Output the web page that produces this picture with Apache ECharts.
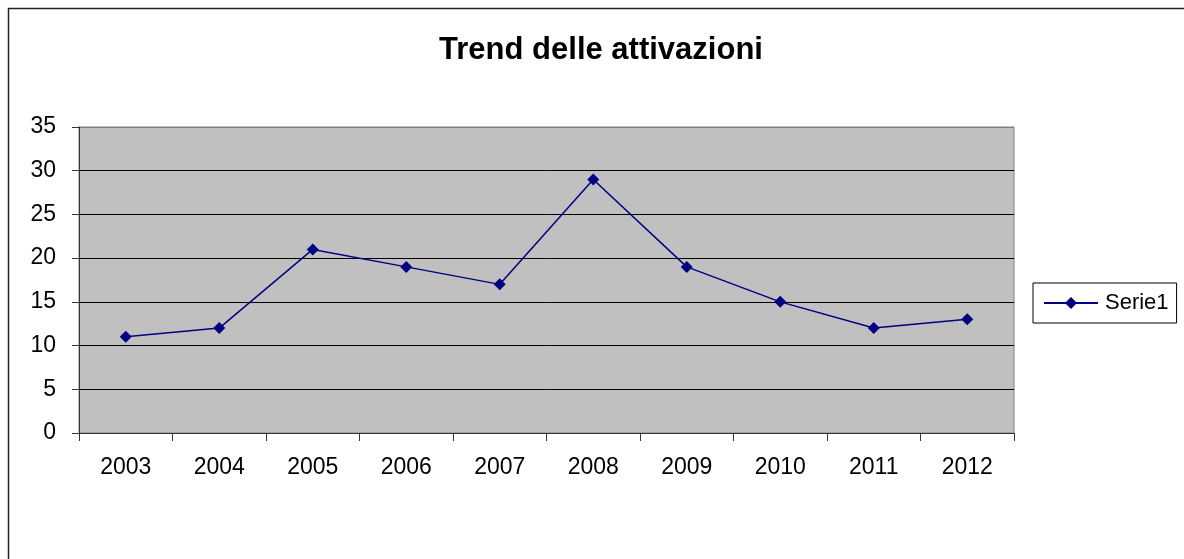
<!DOCTYPE html>
<html><head><meta charset="utf-8">
<script src="https://cdn.jsdelivr.net/npm/echarts@6/dist/echarts.min.js"></script>
<style>html,body{margin:0;padding:0;background:#fff}#c{width:1184px;height:559px}</style>
</head><body><div id="c"></div>
<script>
const categories = ['2003','2004','2005','2006','2007','2008','2009','2010','2011','2012'];
const serie1 = [11, 12, 21, 19, 17, 29, 19, 15, 12, 13];
const seriesName = 'Serie1';
const titleText = 'Trend delle attivazioni';

const chart = echarts.init(document.getElementById('c'), null, {renderer:'canvas'});
const font = 'Liberation Sans, Arial, sans-serif';
chart.setOption({
  animation: false,
  backgroundColor: '#fff',
  graphic: [{
    type: 'rect', shape: {x: 8.5, y: 8.5, width: 1300, height: 700},
    style: {fill: 'none', stroke: '#222', lineWidth: 1.5}, z: 100, silent: true
  }, {
    type: 'text', x: 601, y: 50, silent: true,
    style: {text: titleText, align: 'center', verticalAlign: 'middle',
      font: 'bold 31px Liberation Sans, Arial, sans-serif', fill: '#000'}
  }],
  legend: {
    data: [seriesName], left: 1033, top: 283, orient: 'vertical',
    borderColor: '#000', borderWidth: 1, padding: [9, 8, 9, 10],
    itemWidth: 54, itemHeight: 15, itemGap: 0,
    textStyle: {fontFamily: font, fontSize: 22, color: '#000', padding: [0,0,0,2]},
    backgroundColor: '#fff'
  },
  grid: {
    left: 79, top: 127, right: 170, bottom: 126,
    show: true, backgroundColor: '#C0C0C0', borderColor: '#808080', borderWidth: 1
  },
  xAxis: {
    type: 'category', data: categories, boundaryGap: true,
    axisLine: {lineStyle: {color: '#333', width: 1}},
    axisTick: {show: true, length: 8, alignWithLabel: false, lineStyle: {color: '#333'}},
    axisLabel: {fontFamily: font, fontSize: 23, color: '#000', margin: 23},
    splitLine: {show: false}
  },
  yAxis: {
    type: 'value', min: 0, max: 35, interval: 5,
    axisLine: {show: true, lineStyle: {color: '#333', width: 1}},
    axisTick: {show: true, length: 7, lineStyle: {color: '#333'}},
    axisLabel: {fontFamily: font, fontSize: 23, color: '#000', margin: 23},
    splitLine: {show: true, lineStyle: {color: ['#000','#000','#000','#000','#000','#000','#000','#808080'], width: 1}}
  },
  series: [{
    name: seriesName, type: 'line', data: serie1,
    symbol: 'diamond', symbolSize: 12,
    lineStyle: {color: '#000080', width: 1.5},
    itemStyle: {color: '#000080'}
  }]
});
</script></body></html>
